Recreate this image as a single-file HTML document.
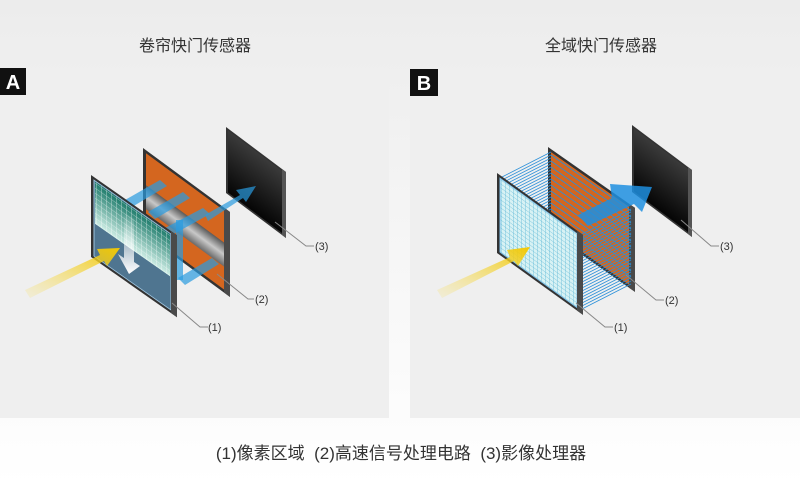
<!DOCTYPE html>
<html><head><meta charset="utf-8"><style>
html,body{margin:0;padding:0;width:800px;height:485px;overflow:hidden;background:#fff}
</style></head><body>
<svg width="800" height="485" viewBox="0 0 800 485" xmlns="http://www.w3.org/2000/svg" font-family="Liberation Sans, Noto Sans CJK SC, sans-serif">
<defs>
<linearGradient id="bg" x1="0" y1="0" x2="0" y2="1"><stop offset="0" stop-color="#ececec"/><stop offset="1" stop-color="#ffffff"/></linearGradient>
<linearGradient id="blk" x1="0" y1="0" x2="0" y2="1"><stop offset="0" stop-color="#3a3a3a"/><stop offset="1" stop-color="#050505"/></linearGradient>
<linearGradient id="grn" x1="0" y1="0" x2="0" y2="1"><stop offset="0" stop-color="#1c7a6a"/><stop offset="1" stop-color="#cfeee6"/></linearGradient>
<linearGradient id="gry" x1="0" y1="0" x2="0" y2="1"><stop offset="0" stop-color="#5a5a5a"/><stop offset="0.5" stop-color="#c8c8c8"/><stop offset="1" stop-color="#6a6a6a"/></linearGradient>
<linearGradient id="yel" x1="0" y1="1" x2="1" y2="0"><stop offset="0" stop-color="#f6e27a" stop-opacity="0.2"/><stop offset="1" stop-color="#f3c800"/></linearGradient>
<linearGradient id="wa" x1="0" y1="0" x2="0" y2="1"><stop offset="0" stop-color="#fff" stop-opacity="0"/><stop offset="1" stop-color="#fff"/></linearGradient>
<pattern id="grid" width="5" height="5" patternUnits="userSpaceOnUse"><rect width="5" height="5" fill="none"/><path d="M0 0H5M0 0V5" stroke="#ffffff" stroke-opacity="0.7" stroke-width="0.8"/></pattern>
<pattern id="gridb" width="4" height="4" patternUnits="userSpaceOnUse"><rect width="4" height="4" fill="#d8f2f4"/><path d="M0 0H4M0 0V4" stroke="#5ab6d6" stroke-width="0.7"/></pattern>
</defs>
<rect width="800" height="485" fill="url(#bg)"/>
<rect x="0" y="68" width="389" height="350" fill="#efefef"/>
<rect x="410" y="68" width="390" height="350" fill="#efefef"/>
<rect x="0" y="68" width="26" height="27" fill="#111"/>
<text x="13" y="89" font-size="20" font-weight="bold" fill="#fff" text-anchor="middle">A</text>
<rect x="410" y="69" width="28" height="27" fill="#111"/>
<text x="424" y="90" font-size="20" font-weight="bold" fill="#fff" text-anchor="middle">B</text>
<text x="195" y="51" font-size="16" fill="#333" text-anchor="middle">卷帘快门传感器</text>
<text x="601" y="51" font-size="16" fill="#333" text-anchor="middle">全域快门传感器</text>
<text x="401" y="459" font-size="17" fill="#333" text-anchor="middle" xml:space="preserve">(1)像素区域  (2)高速信号处理电路  (3)影像处理器</text>

<!-- A panel 3 -->
<g transform="matrix(1,0.75,0,1,226,127)">
<rect x="0" y="0" width="60" height="66" fill="#333"/>
<rect x="2" y="2" width="54" height="62" fill="url(#blk)"/>
<rect x="56" y="0" width="4" height="66" fill="#555"/>
</g>
<!-- A panel 2 -->
<g transform="matrix(1,0.735,0,1,143,148)">
<rect x="0" y="0" width="87" height="85" fill="#333"/>
<rect x="3" y="3" width="78" height="79" fill="#d4661f"/>
<rect x="3" y="35" width="78" height="24" fill="url(#gry)"/>
<rect x="81" y="0" width="6" height="85" fill="#4a4a4a"/>
</g>
<g fill="#2a9be0" fill-opacity="0.7">
<polygon points="125,200 160,180 167,186 132,207"/>
<polygon points="148,212 183,192 190,198 155,219"/>
<polygon points="165,228 203,208 210,214 172,235"/>
<polygon points="178,278 212,258 219,264 185,285"/>
<rect x="176" y="220" width="7" height="60"/>
<polygon points="205,215 240,195 236,190 256,186 246,202 243,198 208,221"/>
</g>
<!-- A panel 1 -->
<g transform="matrix(1,0.7,0,1,91,175)">
<rect x="0" y="0" width="86" height="82" fill="#333"/>
<rect x="3" y="3" width="77" height="76" fill="#4f7590" stroke="#9cc3dd" stroke-width="1"/>
<rect x="4" y="4" width="75" height="42" fill="url(#grn)"/>
<rect x="4" y="4" width="75" height="42" fill="url(#grid)"/>
<rect x="80" y="0" width="6" height="82" fill="#4a4a4a"/>
</g>
<polygon points="124,212 134,219 134,262 140,266 129,274 118,254 124,258" fill="url(#wa)"/>
<polygon points="25,290 100,255 97,249 120,248 107,266 104,261 30,298" fill="url(#yel)"/>
<g stroke="#888" fill="none" stroke-width="1"><polyline points="172,303 200,327 208,327"/><polyline points="217,274 248,299 254,299"/><polyline points="275,222 306,246 314,246"/></g>
<g font-size="11" fill="#333"><text x="208" y="331">(1)</text><text x="255" y="303">(2)</text><text x="315" y="250">(3)</text></g>

<!-- B panel 3 -->
<g transform="matrix(1,0.75,0,1,632,125)">
<rect x="0" y="0" width="60" height="67" fill="#333"/>
<rect x="2" y="2" width="54" height="63" fill="url(#blk)"/>
<rect x="56" y="0" width="4" height="67" fill="#555"/>
</g>
<!-- B panel 2 -->
<g transform="matrix(1,0.7,0,1,548,147)">
<rect x="0" y="0" width="87" height="84" fill="#333"/>
<rect x="3" y="3" width="78" height="78" fill="#d4661f"/>
<rect x="81" y="0" width="6" height="84" fill="#4a4a4a"/>
</g>
<path stroke="#2a8fd8" stroke-width="0.8" fill="none" d="M500 178l51-26M500 181l51-26M500 184l51-26M500 187l51-26M500 190l51-26M500 193l51-26M500 196l51-26M500 199l51-26M500 202l51-26M500 205l51-26M500 208l51-26M500 211l51-26M500 214l51-26M500 217l51-26M500 220l51-26M500 223l51-26M500 226l51-26M500 229l51-26M500 232l51-26M500 235l51-26M500 238l51-26M500 241l51-26M500 244l51-26M500 247l51-26M500 250l51-26M500 253l51-26
M580 235l51-26M580 238l51-26M580 241l51-26M580 244l51-26M580 247l51-26M580 250l51-26M580 253l51-26M580 256l51-26M580 259l51-26M580 262l51-26M580 265l51-26M580 268l51-26M580 271l51-26M580 274l51-26M580 277l51-26M580 280l51-26M580 283l51-26M580 286l51-26M580 289l51-26M580 292l51-26M580 295l51-26M580 298l51-26M580 301l51-26M580 304l51-26M580 307l51-26M580 310l51-26
M551 155l80 56M551 161l80 56M551 167l80 56M551 173l80 56M551 179l80 56M551 185l80 56M551 191l80 56M551 197l80 56M551 203l80 56M551 209l80 56M551 215l80 56M551 221l80 56"/>
<polygon points="578,215 612,198 610,184 652,187 642,212 634,204 588,226" fill="#1f8fe0" fill-opacity="0.85"/>
<!-- B panel 1 -->
<g transform="matrix(1,0.72,0,1,497,173)">
<rect x="0" y="0" width="86" height="80" fill="#333"/>
<rect x="3" y="3" width="77" height="74" fill="url(#gridb)" stroke="#7fbfe8"/>
<rect x="80" y="0" width="6" height="80" fill="#4a4a4a"/>
</g>
<polygon points="437,290 510,257 507,250 530,247 518,266 514,261 442,298" fill="url(#yel)"/>
<g stroke="#888" fill="none" stroke-width="1"><polyline points="576,303 605,327 613,327"/><polyline points="626,275 656,300 664,300"/><polyline points="681,220 711,246 719,246"/></g>
<g font-size="11" fill="#333"><text x="614" y="331">(1)</text><text x="665" y="304">(2)</text><text x="720" y="250">(3)</text></g>
</svg>
</body></html>
